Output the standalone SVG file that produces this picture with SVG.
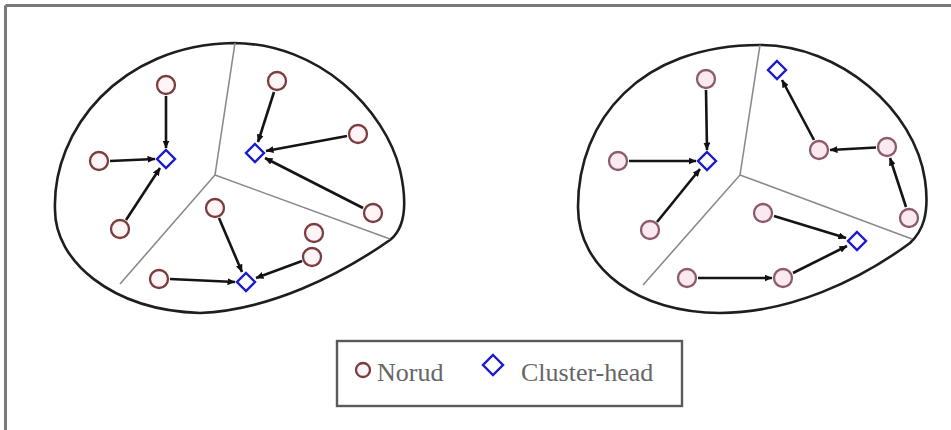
<svg xmlns="http://www.w3.org/2000/svg" width="951" height="430" viewBox="0 0 951 430">
  <defs>
    <marker id="arrow" viewBox="0 0 8 7" refX="7.5" refY="3.5" markerWidth="8" markerHeight="7" markerUnits="userSpaceOnUse" orient="auto">
      <path d="M0,0 L8,3.5 L0,7 z" fill="#111"/>
    </marker>
    <style>
      .frame { stroke: #7a7a7a; stroke-width: 3; fill: none; }
      .region { fill: #ffffff; stroke: #1e1e1e; stroke-width: 2.6; }
      .divider { stroke: #8a8a8a; stroke-width: 1.6; fill: none; }
      .node { fill: #fff4f6; stroke: #7a3c3c; stroke-width: 2.3; }
      .node2 { fill: #fbe9f1; stroke: #8c5a69; stroke-width: 2.3; }
      .head { fill: #ffffff; stroke: #1a1ad0; stroke-width: 2.4; }
      .link { stroke: #141414; stroke-width: 2.6; fill: none; marker-end: url(#arrow); }
      .legend-box { fill: #ffffff; stroke: #5a5a5a; stroke-width: 2.4; }
      .legend-text { font-family: "Liberation Serif", "Times New Roman", serif; font-size: 26px; fill: #666666; }
    </style>
  </defs>

  <!-- outer frame (top and left edges) -->
  <g id="frame">
    <line class="frame" x1="5.5" y1="5.5" x2="951" y2="5.5"/>
    <line class="frame" x1="5.5" y1="5.5" x2="5.5" y2="430"/>
  </g>

  <!-- left network area -->
  <g id="area-left">
    <path class="region" d="M233,43 C320,43 385,110 400,170 C408,205 405,228 390,240 C340,275 270,310 200,313 C110,310 55,260 55,210 C52,130 120,45 233,43 Z"/>
    <polyline class="divider" points="235,43 215,175 120,284"/>
    <line class="divider" x1="215" y1="175" x2="390" y2="239"/>
  </g>

  <!-- right network area -->
  <g id="area-right">
    <path class="region" d="M760,45 C840,45 915,110 925,180 C930,215 922,232 910,243 C860,280 790,313 720,313 C640,313 578,270 578,207 C578,120 640,45 760,45 Z"/>
    <polyline class="divider" points="760,45 740,175 643,285"/>
    <line class="divider" x1="740" y1="175" x2="912" y2="239"/>
  </g>

  <!-- links -->
  <g id="connectors">
    <line class="link" x1="166" y1="96" x2="166" y2="148"/>
    <line class="link" x1="110" y1="161" x2="155" y2="159"/>
    <line class="link" x1="126" y1="220" x2="160" y2="168"/>
    <line class="link" x1="274" y1="92" x2="258" y2="142"/>
    <line class="link" x1="347" y1="136" x2="266" y2="151"/>
    <line class="link" x1="363" y1="208" x2="265" y2="158"/>
    <line class="link" x1="219" y1="218" x2="242" y2="272"/>
    <line class="link" x1="170" y1="279" x2="235" y2="282"/>
    <line class="link" x1="302" y1="261" x2="256" y2="278"/>

    <line class="link" x1="706" y1="90" x2="707" y2="150"/>
    <line class="link" x1="629" y1="161" x2="696" y2="161"/>
    <line class="link" x1="657" y1="222" x2="700" y2="169"/>
    <line class="link" x1="814" y1="140" x2="782" y2="80"/>
    <line class="link" x1="876" y1="147.5" x2="830" y2="150"/>
    <line class="link" x1="906" y1="207" x2="890" y2="158"/>
    <line class="link" x1="774" y1="216" x2="846" y2="238"/>
    <line class="link" x1="698" y1="278" x2="772" y2="278"/>
    <line class="link" x1="793" y1="273" x2="847" y2="246"/>
  </g>

  <!-- left area nodes -->
  <g id="n1"><circle class="node" cx="166" cy="85" r="9"/></g>
  <g id="n2"><circle class="node" cx="99" cy="161" r="9"/></g>
  <g id="n3"><circle class="node" cx="120" cy="229" r="9"/></g>
  <g id="n4"><circle class="node" cx="277" cy="81" r="9"/></g>
  <g id="n5"><circle class="node" cx="358" cy="134" r="9"/></g>
  <g id="n6"><circle class="node" cx="373" cy="213" r="9"/></g>
  <g id="n7"><circle class="node" cx="215" cy="208" r="9"/></g>
  <g id="n8"><circle class="node" cx="314" cy="233" r="9"/></g>
  <g id="n9"><circle class="node" cx="312" cy="257" r="9"/></g>
  <g id="n10"><circle class="node" cx="159" cy="279" r="9"/></g>
  <g id="ch1"><polygon class="head" points="166,150 175,159 166,168 157,159"/></g>
  <g id="ch2"><polygon class="head" points="255,144 264,153 255,162 246,153"/></g>
  <g id="ch3"><polygon class="head" points="246,273 255,282 246,291 237,282"/></g>

  <!-- right area nodes -->
  <g id="m1"><circle class="node2" cx="706" cy="79" r="9"/></g>
  <g id="m2"><circle class="node2" cx="618" cy="161" r="9"/></g>
  <g id="m3"><circle class="node2" cx="650" cy="230" r="9"/></g>
  <g id="m4"><circle class="node2" cx="819" cy="150" r="9"/></g>
  <g id="m5"><circle class="node2" cx="887" cy="147" r="9"/></g>
  <g id="m6"><circle class="node2" cx="909" cy="218" r="9"/></g>
  <g id="m7"><circle class="node2" cx="763" cy="213" r="9"/></g>
  <g id="m8"><circle class="node2" cx="687" cy="278" r="9"/></g>
  <g id="m9"><circle class="node2" cx="783" cy="278" r="9"/></g>
  <g id="ch4"><polygon class="head" points="777,61 786,70 777,79 768,70"/></g>
  <g id="ch5"><polygon class="head" points="707,152 716,161 707,170 698,161"/></g>
  <g id="ch6"><polygon class="head" points="857,232 866,241 857,250 848,241"/></g>

  <!-- legend -->
  <g id="legend">
    <rect class="legend-box" x="337" y="341" width="345" height="65"/>
    <circle class="node" cx="363" cy="370" r="7"/>
    <text class="legend-text" x="377" y="381">Norud</text>
    <polygon class="head" points="493,355 503,365 493,375 483,365"/>
    <text class="legend-text" x="521" y="381">Cluster-head</text>
  </g>
</svg>
